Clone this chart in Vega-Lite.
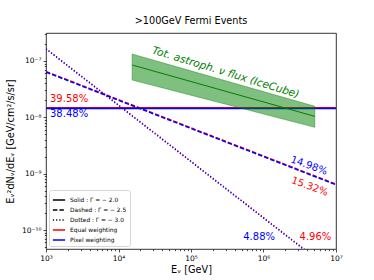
{
  "$schema": "https://vega.github.io/schema/vega-lite/v6.json",
  "width": 290,
  "height": 216,
  "autosize": "none",
  "padding": {"left": 46, "top": 33, "right": 38, "bottom": 31},
  "title": {"text": ">100GeV Fermi Events", "fontSize": 9.7, "fontWeight": "normal", "font": "DejaVu Sans", "offset": 4, "color": "black"},
  "config": {
    "view": {"stroke": "black", "strokeWidth": 0.8},
    "font": "DejaVu Sans",
    "axis": {"domain": false, "grid": false, "tickColor": "black", "tickWidth": 0.7, "labelColor": "black", "titleColor": "black", "labelFont": "DejaVu Sans", "titleFont": "DejaVu Sans", "labelFontSize": 7.5, "titleFontSize": 9.7, "titleFontWeight": "normal", "labelFlush": false, "labelOverlap": false, "labelBound": false}
  },
  "datasets": {
    "lines": [
      {"E": 1000, "flux": 1.49e-8, "weighting": "Equal weighting", "style": "solid"},
      {"E": 10000000, "flux": 1.49e-8, "weighting": "Equal weighting", "style": "solid"},
      {"E": 1000, "flux": 6.55e-8, "weighting": "Equal weighting", "style": "dashed"},
      {"E": 10000000, "flux": 6.55e-10, "weighting": "Equal weighting", "style": "dashed"},
      {"E": 1000, "flux": 1.67e-7, "weighting": "Equal weighting", "style": "dotted"},
      {"E": 10000000, "flux": 1.67e-11, "weighting": "Equal weighting", "style": "dotted"},
      {"E": 1000, "flux": 1.43e-8, "weighting": "Pixel weighting", "style": "solid"},
      {"E": 10000000, "flux": 1.43e-8, "weighting": "Pixel weighting", "style": "solid"},
      {"E": 1000, "flux": 6.35e-8, "weighting": "Pixel weighting", "style": "dashed"},
      {"E": 10000000, "flux": 6.35e-10, "weighting": "Pixel weighting", "style": "dashed"},
      {"E": 1000, "flux": 1.63e-7, "weighting": "Pixel weighting", "style": "dotted"},
      {"E": 10000000, "flux": 1.63e-11, "weighting": "Pixel weighting", "style": "dotted"}
    ],
    "band": [
      {"E": 15400, "lo": 4.6e-8, "flux": 8.5e-8, "hi": 1.33e-7},
      {"E": 5100000, "lo": 6.65e-9, "flux": 1.04e-8, "hi": 1.57e-8}
    ]
  },
  "layer": [
    {
      "data": {"name": "lines"},
      "transform": [{"filter": "datum.weighting == 'Equal weighting'"}],
      "mark": {"type": "line", "clip": true, "strokeWidth": 1.2},
      "encoding": {
        "x": {"field": "E", "type": "quantitative",
          "scale": {"type": "log", "domain": [1000, 10000000], "nice": false},
          "axis": {
            "title": "Eᵥ [GeV]",
            "values": [1000,2000,3000,4000,5000,6000,7000,8000,9000,10000,20000,30000,40000,50000,60000,70000,80000,90000,100000,200000,300000,400000,500000,600000,700000,800000,900000,1000000,2000000,3000000,4000000,5000000,6000000,7000000,8000000,9000000,10000000],
            "tickSize": {"condition": {"test": "abs(log(datum.value)/LN10 - round(log(datum.value)/LN10)) < 0.01", "value": 3}, "value": 1.7},
            "labelExpr": "abs(log(datum.value)/LN10 - round(log(datum.value)/LN10)) < 0.01 ? '10' + replace(replace(replace(replace(replace(replace(replace(replace(replace(replace(replace(toString(round(log(datum.value)/LN10)),'-','⁻'),'0','⁰'),'1','¹'),'2','²'),'3','³'),'4','⁴'),'5','⁵'),'6','⁶'),'7','⁷'),'8','⁸'),'9','⁹') : ''",
            "labelPadding": 2,
            "titlePadding": 3
          }
        },
        "y": {"field": "flux", "type": "quantitative",
          "scale": {"type": "log", "domain": [4.6e-11, 3.14e-7], "nice": false},
          "axis": {
            "title": "Eᵥ²dNᵥ/dEᵥ [GeV/cm²/s/sr]",
            "values": [5e-11,6e-11,7e-11,8e-11,9e-11,1e-10,2e-10,3e-10,4e-10,5e-10,6e-10,7e-10,8e-10,9e-10,1e-9,2e-9,3e-9,4e-9,5e-9,6e-9,7e-9,8e-9,9e-9,1e-8,2e-8,3e-8,4e-8,5e-8,6e-8,7e-8,8e-8,9e-8,1e-7,2e-7,3e-7],
            "tickSize": {"condition": {"test": "abs(log(datum.value)/LN10 - round(log(datum.value)/LN10)) < 0.01", "value": 3}, "value": 1.7},
            "labelExpr": "abs(log(datum.value)/LN10 - round(log(datum.value)/LN10)) < 0.01 ? '10' + replace(replace(replace(replace(replace(replace(replace(replace(replace(replace(replace(toString(round(log(datum.value)/LN10)),'-','⁻'),'0','⁰'),'1','¹'),'2','²'),'3','³'),'4','⁴'),'5','⁵'),'6','⁶'),'7','⁷'),'8','⁸'),'9','⁹') : ''",
            "labelPadding": 2,
            "titlePadding": 6
          }
        },
        "color": {"field": "weighting", "type": "nominal",
          "scale": {"domain": ["Solid : Γ = − 2.0", "Dashed : Γ = − 2.5", "Dotted : Γ = − 3.0", "Equal weighting", "Pixel weighting"], "range": ["black", "black", "black", "red", "blue"]},
          "legend": {
            "title": null, "orient": "bottom-left", "offset": 3, "symbolType": "stroke", "symbolSize": 150, "symbolStrokeWidth": 1.3,
            "labelFontSize": 5.9, "labelFont": "DejaVu Sans", "labelColor": "black", "padding": 3, "strokeColor": "#d5d5d5", "fillColor": "white", "cornerRadius": 2, "rowPadding": 0, "labelOffset": 4,
            "encode": {"symbols": {"update": {"strokeDash": {"signal": "datum.value == 'Dashed : Γ = − 2.5' ? [4.5, 2] : datum.value == 'Dotted : Γ = − 3.0' ? [1.2, 2] : [1, 0]"}}}}
          }
        },
        "strokeDash": {"field": "style", "type": "nominal",
          "scale": {"domain": ["solid", "dashed", "dotted"], "range": [[1, 0], [4.5, 2], [1.2, 2]]},
          "legend": null
        }
      }
    },
    {
      "data": {"name": "lines"},
      "transform": [{"filter": "datum.weighting == 'Pixel weighting'"}],
      "mark": {"type": "line", "clip": true, "strokeWidth": 1.5},
      "encoding": {
        "x": {"field": "E", "type": "quantitative", "scale": {"type": "log", "domain": [1000, 10000000], "nice": false}},
        "y": {"field": "flux", "type": "quantitative", "scale": {"type": "log", "domain": [4.6e-11, 3.14e-7], "nice": false}},
        "color": {"field": "weighting", "type": "nominal"},
        "strokeDash": {"field": "style", "type": "nominal"}
      }
    },
    {
      "data": {"name": "band"},
      "mark": {"type": "area", "clip": true, "fill": "green", "fillOpacity": 0.5, "stroke": "green", "strokeOpacity": 0.5, "strokeWidth": 0.8},
      "encoding": {
        "x": {"field": "E", "type": "quantitative", "scale": {"type": "log", "domain": [1000, 10000000], "nice": false}},
        "y": {"field": "lo", "type": "quantitative", "scale": {"type": "log", "domain": [4.6e-11, 3.14e-7], "nice": false}},
        "y2": {"field": "hi"}
      }
    },
    {
      "data": {"name": "band"},
      "mark": {"type": "line", "clip": true, "color": "green", "strokeWidth": 1},
      "encoding": {
        "x": {"field": "E", "type": "quantitative", "scale": {"type": "log", "domain": [1000, 10000000], "nice": false}},
        "y": {"field": "flux", "type": "quantitative", "scale": {"type": "log", "domain": [4.6e-11, 3.14e-7], "nice": false}}
      }
    },
    {
      "data": {"values": [{"E": 2080, "flux": 2.08e-8, "text": "39.58%"}, {"E": 5200000, "flux": 7.5e-11, "text": "4.96%"}]},
      "mark": {"type": "text", "color": "red", "fontSize": 10, "font": "DejaVu Sans", "align": "center", "baseline": "middle"},
      "encoding": {
        "x": {"field": "E", "type": "quantitative", "scale": {"type": "log", "domain": [1000, 10000000], "nice": false}},
        "y": {"field": "flux", "type": "quantitative", "scale": {"type": "log", "domain": [4.6e-11, 3.14e-7], "nice": false}},
        "text": {"field": "text"}
      }
    },
    {
      "data": {"values": [{"E": 2080, "flux": 1.13e-8, "text": "38.48%"}, {"E": 870000, "flux": 7.5e-11, "text": "4.88%"}]},
      "mark": {"type": "text", "color": "blue", "fontSize": 10, "font": "DejaVu Sans", "align": "center", "baseline": "middle"},
      "encoding": {
        "x": {"field": "E", "type": "quantitative", "scale": {"type": "log", "domain": [1000, 10000000], "nice": false}},
        "y": {"field": "flux", "type": "quantitative", "scale": {"type": "log", "domain": [4.6e-11, 3.14e-7], "nice": false}},
        "text": {"field": "text"}
      }
    },
    {
      "data": {"values": [{"E": 4250000, "flux": 1.39e-9, "text": "14.98%"}]},
      "mark": {"type": "text", "color": "blue", "fontSize": 10, "font": "DejaVu Sans", "align": "center", "baseline": "middle", "angle": 20},
      "encoding": {
        "x": {"field": "E", "type": "quantitative", "scale": {"type": "log", "domain": [1000, 10000000], "nice": false}},
        "y": {"field": "flux", "type": "quantitative", "scale": {"type": "log", "domain": [4.6e-11, 3.14e-7], "nice": false}},
        "text": {"field": "text"}
      }
    },
    {
      "data": {"values": [{"E": 4350000, "flux": 5.9e-10, "text": "15.32%"}]},
      "mark": {"type": "text", "color": "red", "fontSize": 10, "font": "DejaVu Sans", "align": "center", "baseline": "middle", "angle": 20},
      "encoding": {
        "x": {"field": "E", "type": "quantitative", "scale": {"type": "log", "domain": [1000, 10000000], "nice": false}},
        "y": {"field": "flux", "type": "quantitative", "scale": {"type": "log", "domain": [4.6e-11, 3.14e-7], "nice": false}},
        "text": {"field": "text"}
      }
    },
    {
      "data": {"values": [{"E": 300000, "flux": 6.2e-8, "text": "Tot. astroph. ν flux (IceCube)"}]},
      "mark": {"type": "text", "color": "green", "fontSize": 10.6, "font": "DejaVu Sans", "fontStyle": "italic", "align": "center", "baseline": "middle", "angle": 17},
      "encoding": {
        "x": {"field": "E", "type": "quantitative", "scale": {"type": "log", "domain": [1000, 10000000], "nice": false}},
        "y": {"field": "flux", "type": "quantitative", "scale": {"type": "log", "domain": [4.6e-11, 3.14e-7], "nice": false}},
        "text": {"field": "text"}
      }
    }
  ]
}
